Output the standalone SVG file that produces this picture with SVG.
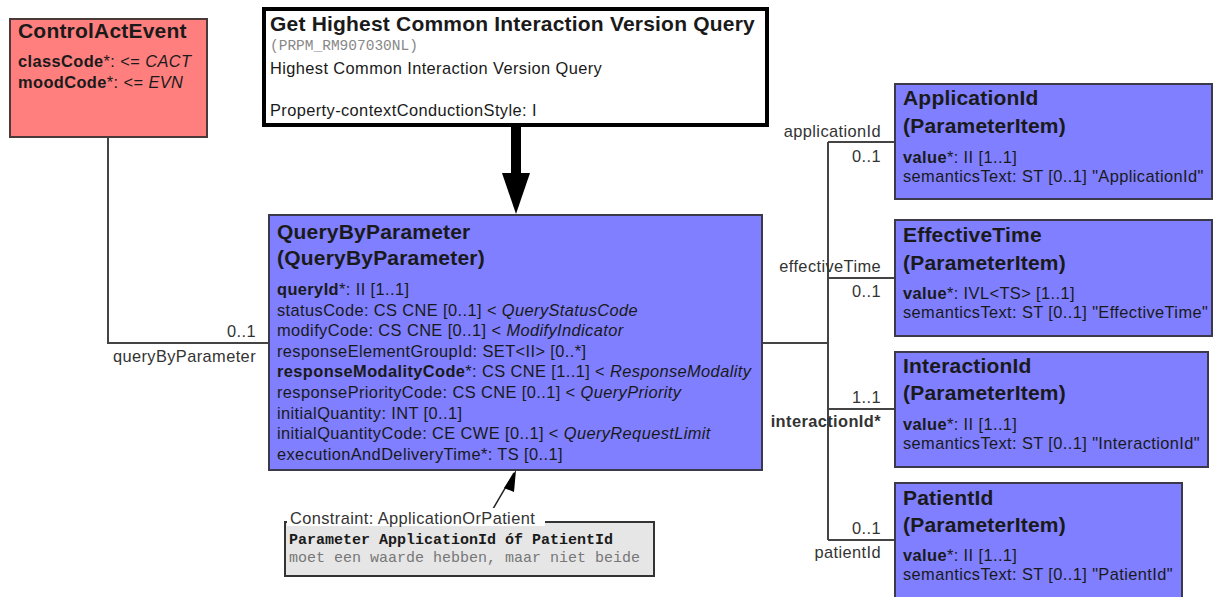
<svg xmlns="http://www.w3.org/2000/svg" width="1214" height="597" viewBox="0 0 1214 597">
<defs>
<style>
text{font-family:"Liberation Sans",Arial,sans-serif;fill:#1a1a1a}
.t{font-size:21px;font-weight:bold;letter-spacing:0.2px}
.a{font-size:16.4px;letter-spacing:0.4px}
.b{font-weight:bold}
.i{font-style:italic}
.l{font-size:16.4px;letter-spacing:0.4px;fill:#333}
.m{font-family:"Liberation Mono","Courier New",monospace;font-size:15px}
.cls{fill:#7F7FFF;stroke:#3a3a4a;stroke-width:2}
.act{fill:#FF7F7F;stroke:#4a3a3a;stroke-width:2}
.con{fill:none;stroke:#444;stroke-width:2}
</style>
</defs>
<rect width="1214" height="597" fill="#fff"/>

<g id="connectors">
<polyline class="con" points="108,137 108,343 269,343"/>
<polyline class="con" points="762,343 828,343"/>
<polyline class="con" points="828,142 828,540"/>
<line class="con" x1="828" y1="142" x2="895" y2="142"/>
<line class="con" x1="828" y1="278" x2="895" y2="278"/>
<line class="con" x1="828" y1="409" x2="895" y2="409"/>
<line class="con" x1="828" y1="540" x2="895" y2="540"/>
<rect x="511" y="126" width="10" height="48" fill="#000"/>
<polygon points="502,173 530,173 516,214" fill="#000"/>
<line x1="490" y1="514" x2="514" y2="473" stroke="#222" stroke-width="1.5"/>
<polygon points="516,470 504,488 514,492" fill="#000"/>
<text class="l" x="256" y="337" text-anchor="end">0..1</text>
<text class="l" x="256" y="362" text-anchor="end">queryByParameter</text>
<text class="l" x="881" y="137" text-anchor="end">applicationId</text>
<text class="l" x="881" y="162" text-anchor="end">0..1</text>
<text class="l" x="881" y="272" text-anchor="end">effectiveTime</text>
<text class="l" x="881" y="297" text-anchor="end">0..1</text>
<text class="l" x="881" y="403" text-anchor="end">1..1</text>
<text class="l b" x="881" y="427" text-anchor="end">interactionId*</text>
<text class="l" x="881" y="534" text-anchor="end">0..1</text>
<text class="l" x="881" y="558" text-anchor="end">patientId</text>
</g>

<g id="ControlActEvent">
<rect class="act" x="10" y="19" width="197" height="118"/>
<text class="t" x="18" y="38">ControlActEvent</text>
<text class="a" x="18" y="67"><tspan class="b">classCode</tspan>*: &lt;= <tspan class="i">CACT</tspan></text>
<text class="a" x="18" y="88"><tspan class="b">moodCode</tspan>*: &lt;= <tspan class="i">EVN</tspan></text>
</g>

<g id="GetHighest">
<rect x="264" y="9" width="503" height="116" fill="#fff" stroke="#000" stroke-width="4"/>
<text class="t" x="270" y="31">Get Highest Common Interaction Version Query</text>
<text class="m" x="270" y="50" style="fill:#888;font-size:14.5px">(PRPM_RM907030NL)</text>
<text class="a" x="270" y="74">Highest Common Interaction Version Query</text>
<text class="a" x="270" y="116">Property-contextConductionStyle: I</text>
</g>

<g id="QueryByParameter">
<rect class="cls" x="269" y="215" width="493" height="255"/>
<text class="t" x="277" y="239">QueryByParameter</text>
<text class="t" x="277" y="265">(QueryByParameter)</text>
<text class="a" x="277" y="295"><tspan class="b">queryId</tspan>*: II [1..1]</text>
<text class="a" x="277" y="315.6">statusCode: CS CNE [0..1] &lt; <tspan class="i">QueryStatusCode</tspan></text>
<text class="a" x="277" y="336.2">modifyCode: CS CNE [0..1] &lt; <tspan class="i">ModifyIndicator</tspan></text>
<text class="a" x="277" y="356.8">responseElementGroupId: SET&lt;II&gt; [0..*]</text>
<text class="a" x="277" y="377.4"><tspan class="b">responseModalityCode</tspan>*: CS CNE [1..1] &lt; <tspan class="i">ResponseModality</tspan></text>
<text class="a" x="277" y="398">responsePriorityCode: CS CNE [0..1] &lt; <tspan class="i">QueryPriority</tspan></text>
<text class="a" x="277" y="418.6">initialQuantity: INT [0..1]</text>
<text class="a" x="277" y="439.2">initialQuantityCode: CE CWE [0..1] &lt; <tspan class="i">QueryRequestLimit</tspan></text>
<text class="a" x="277" y="459.8">executionAndDeliveryTime*: TS [0..1]</text>
</g>

<g id="Constraint">
<rect x="285" y="522" width="369" height="54" fill="#E6E6E6" stroke="#333" stroke-width="2"/>
<rect x="287" y="508" width="258" height="18" fill="#fff"/>
<text class="a" x="290" y="524" style="fill:#333">Constraint: ApplicationOrPatient</text>
<text class="m b" x="289" y="544">Parameter ApplicationId óf PatientId</text>
<text class="m" x="289" y="562" style="fill:#777">moet een waarde hebben, maar niet beide</text>
</g>

<g id="ApplicationId">
<rect class="cls" x="895" y="84" width="317" height="115"/>
<text class="t" x="903" y="105">ApplicationId</text>
<text class="t" x="903" y="133">(ParameterItem)</text>
<text class="a" x="903" y="163"><tspan class="b">value</tspan>*: II [1..1]</text>
<text class="a" x="903" y="182">semanticsText: ST [0..1] "ApplicationId"</text>
</g>

<g id="EffectiveTime">
<rect class="cls" x="895" y="220" width="317" height="116"/>
<text class="t" x="903" y="242">EffectiveTime</text>
<text class="t" x="903" y="270">(ParameterItem)</text>
<text class="a" x="903" y="299"><tspan class="b">value</tspan>*: IVL&lt;TS&gt; [1..1]</text>
<text class="a" x="903" y="318">semanticsText: ST [0..1] "EffectiveTime"</text>
</g>

<g id="InteractionId">
<rect class="cls" x="895" y="352" width="313" height="115"/>
<text class="t" x="903" y="373">InteractionId</text>
<text class="t" x="903" y="400">(ParameterItem)</text>
<text class="a" x="903" y="430"><tspan class="b">value</tspan>*: II [1..1]</text>
<text class="a" x="903" y="449">semanticsText: ST [0..1] "InteractionId"</text>
</g>

<g id="PatientId">
<rect class="cls" x="895" y="483" width="287" height="125"/>
<text class="t" x="903" y="505">PatientId</text>
<text class="t" x="903" y="532">(ParameterItem)</text>
<text class="a" x="903" y="561"><tspan class="b">value</tspan>*: II [1..1]</text>
<text class="a" x="903" y="580">semanticsText: ST [0..1] "PatientId"</text>
</g>
</svg>
